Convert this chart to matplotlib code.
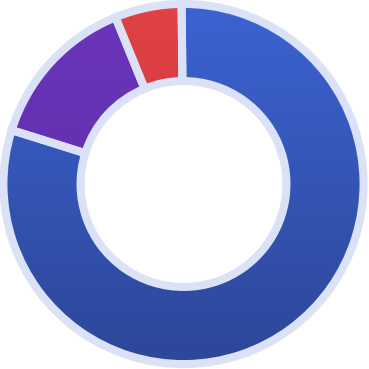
import matplotlib
matplotlib.use("Agg")
import matplotlib.pyplot as plt
import numpy as np
from matplotlib.colors import to_rgb

labels = ["A", "B", "C"]
values = [80, 14, 6]
top_colors = ["#3b63d1", "#6b35bd", "#e04245"]
bottom_colors = ["#2d4799", "#5a2ca0", "#c83539"]
edge_color = "#dbe2f8"

fig = plt.figure(figsize=(3.69, 3.69), dpi=100)
ax = fig.add_axes([-1.0 / 369, 0.5 / 369, 1, 1])
R = 0.976
W = 0.418
wedges, _ = ax.pie(values, startangle=90.6, counterclock=False, radius=R,
                   colors=top_colors,
                   wedgeprops=dict(width=W, edgecolor=edge_color, linewidth=5.8))
ax.set_xlim(-1, 1)
ax.set_ylim(-1, 1)
ax.set_aspect("equal")
ax.axis("off")

ny = 256
t = np.linspace(0, 1, ny)[:, None]
for w, c1, c2 in zip(wedges, top_colors, bottom_colors):
    a = np.array(to_rgb(c1)); b = np.array(to_rgb(c2))
    img = (a[None, None, :] * (1 - t[:, :, None]) + b[None, None, :] * t[:, :, None])
    img = np.repeat(img, 2, axis=1)
    im = ax.imshow(img, extent=(-R, R, -R, R), origin="upper", zorder=w.get_zorder() + 0.1,
                   interpolation="bilinear", aspect="auto")
    im.set_clip_path(w)
    w.set_facecolor("none")
    w.set_zorder(w.get_zorder() + 0.2)

fig.savefig("out.png", dpi=100)
